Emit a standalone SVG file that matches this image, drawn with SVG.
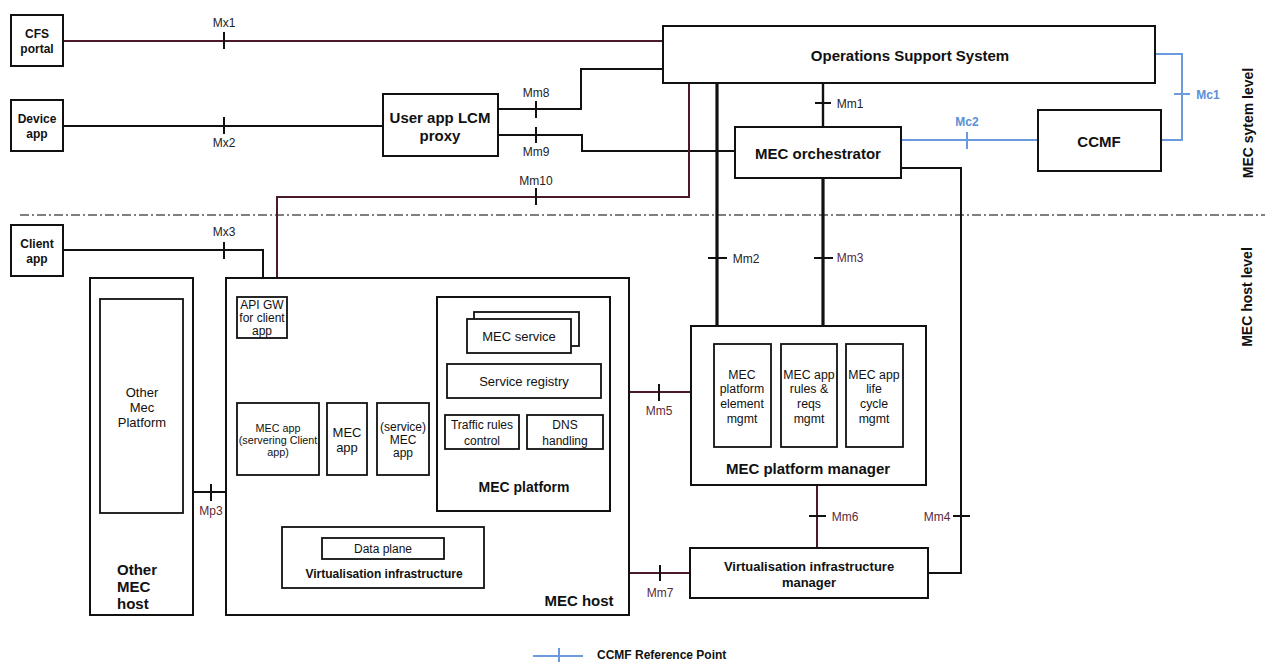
<svg xmlns="http://www.w3.org/2000/svg" width="1265" height="664" viewBox="0 0 1265 664">
<style>
text{font-family:"Liberation Sans",Arial,sans-serif;fill:#111;text-anchor:middle;dominant-baseline:central}
.box{fill:#fff;stroke:#111;stroke-width:2}
.ibox{fill:#fff;stroke:#111;stroke-width:1.8}
.b{font-weight:bold}
.f15{font-size:15px}.f14{font-size:14px}.f13{font-size:13px}.f12{font-size:12px}.f11{font-size:10.8px}
.f125{font-size:12.3px}
.lbl{font-size:12px;fill:#222}
.mlbl{font-size:12px;fill:#5a2a3a}
.blbl{font-size:12px;fill:#5b8fd6;font-weight:bold}
.k{fill:none;stroke:#111;stroke-width:2}
.kt{fill:none;stroke:#111;stroke-width:3.2}
.m{fill:none;stroke:#4a1a2c;stroke-width:2}
.bl{fill:none;stroke:#6b9bdc;stroke-width:2}
.tk{stroke:#111;stroke-width:2}
.tb{stroke:#6b9bdc;stroke-width:2}
</style>

<!-- level separator -->
<line x1="20" y1="215" x2="1265" y2="215" stroke="#555" stroke-width="1.3" stroke-dasharray="9 3 2 3"/>

<g id="connectors">
  <!-- Mx1 -->
  <path class="m" d="M63 41H663"/>
  <line class="tk" x1="224" y1="32" x2="224" y2="49"/>
  <!-- Mx2 -->
  <path class="k" d="M63 126H383"/>
  <line class="tk" x1="224" y1="117" x2="224" y2="134"/>
  <!-- Mm8 -->
  <path class="k" d="M498 109H581V69H663"/>
  <line class="tk" x1="536" y1="101" x2="536" y2="118"/>
  <!-- Mm9 -->
  <path class="k" d="M498 135H582V151H735"/>
  <line class="tk" x1="536" y1="127" x2="536" y2="143"/>
  <!-- Mm10 -->
  <path class="m" d="M277 297V197H689V83"/>
  <line class="tk" x1="536" y1="188" x2="536" y2="205"/>
  <!-- Mm1 -->
  <path class="kt" d="M823 83V127" style="stroke-width:2.4"/>
  <line class="tk" x1="815" y1="103" x2="831" y2="103"/>
  <!-- Mm2 -->
  <path class="kt" d="M717 83V326"/>
  <line class="tk" x1="708" y1="258" x2="727" y2="258"/>
  <!-- Mm3 -->
  <path class="kt" d="M823 178V326"/>
  <line class="tk" x1="814" y1="258" x2="833" y2="258"/>
  <!-- Mc2 -->
  <path class="bl" d="M901 140H1038"/>
  <line class="tb" x1="967" y1="132" x2="967" y2="149"/>
  <!-- Mc1 -->
  <path class="bl" d="M1155 54H1182V140H1161"/>
  <line class="tb" x1="1174" y1="94" x2="1190" y2="94"/>
  <!-- Mm4 -->
  <path class="k" d="M901 168H961V573H928"/>
  <line class="tk" x1="953" y1="516" x2="970" y2="516"/>
  <!-- Mx3 -->
  <path class="k" d="M63 250H263V297"/>
  <line class="tk" x1="224" y1="242" x2="224" y2="259"/>
  <!-- Mx3* -->
  <path class="m" d="M249 338V403"/>
  <line class="tk" x1="241" y1="368" x2="258" y2="368"/>
  <!-- Mp1 -->
  <path class="k" d="M308 403V353H437"/>
  <line class="tk" x1="367" y1="345" x2="367" y2="362"/>
  <path class="m" d="M347 403V370H437"/>
  <line class="tk" x1="393" y1="362" x2="393" y2="378"/>
  <path class="m" d="M402 403V384H437"/>
  <line class="tk" x1="419" y1="376" x2="419" y2="392"/>
  <!-- Mm5 -->
  <path class="m" d="M610 392H691"/>
  <line class="tk" x1="659" y1="384" x2="659" y2="401"/>
  <!-- Mp3 -->
  <path class="k" d="M183 492H437"/>
  <line class="tk" x1="211" y1="484" x2="211" y2="501"/>
  <!-- Mp2 -->
  <path class="m" d="M525 511V548H444"/>
  <line class="tk" x1="516" y1="530" x2="533" y2="530"/>
  <!-- Mm6 -->
  <path class="m" d="M817 485V548"/>
  <line class="tk" x1="809" y1="516" x2="826" y2="516"/>
  <!-- Mm7 -->
  <path class="m" d="M484 573H690"/>
  <line class="tk" x1="660" y1="565" x2="660" y2="581"/>
</g>

<g id="ref-labels">
  <text class="lbl" x="224" y="23">Mx1</text>
  <text class="lbl" x="224" y="143">Mx2</text>
  <text class="lbl" x="536" y="93">Mm8</text>
  <text class="lbl" x="536" y="152">Mm9</text>
  <text class="lbl" x="536" y="181">Mm10</text>
  <text class="lbl" x="850" y="104">Mm1</text>
  <text class="lbl" x="746" y="259">Mm2</text>
  <text class="mlbl" x="850" y="258">Mm3</text>
  <text class="blbl" x="967" y="122">Mc2</text>
  <text class="blbl" x="1208" y="95">Mc1</text>
  <text class="mlbl" x="937" y="517">Mm4</text>
  <text class="lbl" x="224" y="232">Mx3</text>
  <text class="lbl" x="268" y="360">Mx3*</text>
  <text class="mlbl" x="390" y="342">Mp1</text>
  <text class="mlbl" x="659" y="411">Mm5</text>
  <text class="mlbl" x="211" y="511">Mp3</text>
  <text class="mlbl" x="551" y="531">Mp2</text>
  <text class="mlbl" x="845" y="517">Mm6</text>
  <text class="mlbl" x="660" y="593">Mm7</text>
</g>

<g id="cfs-portal">
  <rect class="box" x="11" y="15" width="52" height="51"/>
  <text class="b f12" x="37" y="34">CFS</text>
  <text class="b f12" x="37" y="49">portal</text>
</g>
<g id="device-app">
  <rect class="box" x="11" y="100" width="52" height="51"/>
  <text class="b f12" x="37" y="119">Device</text>
  <text class="b f12" x="37" y="134">app</text>
</g>
<g id="user-app-lcm-proxy">
  <rect class="box" x="383" y="94" width="115" height="62"/>
  <text class="b f15" x="440" y="117">User app LCM</text>
  <text class="b f15" x="440" y="135">proxy</text>
</g>
<g id="oss">
  <rect class="box" x="663" y="26" width="492" height="57"/>
  <text class="b f15" x="910" y="55">Operations Support System</text>
</g>
<g id="mec-orchestrator">
  <rect class="box" x="735" y="127" width="166" height="51"/>
  <text class="b f15" x="818" y="153">MEC orchestrator</text>
</g>
<g id="ccmf">
  <rect class="box" x="1038" y="110" width="123" height="61"/>
  <text class="b f15" x="1099" y="141">CCMF</text>
</g>
<g id="client-app">
  <rect class="box" x="11" y="225" width="52" height="51"/>
  <text class="b f12" x="37" y="244">Client</text>
  <text class="b f12" x="37" y="259">app</text>
</g>

<g id="other-mec-host">
  <rect class="box" x="90" y="278" width="103" height="337"/>
  <text class="b f15" x="117" y="569" style="text-anchor:start">Other</text>
  <text class="b f15" x="117" y="586" style="text-anchor:start">MEC</text>
  <text class="b f15" x="117" y="603" style="text-anchor:start">host</text>
</g>
<g id="other-mec-platform">
  <rect class="ibox" x="100" y="299" width="83" height="214"/>
  <text class="f13" x="142" y="392">Other</text>
  <text class="f13" x="142" y="407">Mec</text>
  <text class="f13" x="142" y="422">Platform</text>
</g>

<g id="mec-host">
  <rect class="box" x="226" y="278" width="403" height="337" fill="none"/>
  <text class="b f15" x="579" y="600">MEC host</text>
</g>
<g id="api-gw">
  <rect class="ibox" x="237" y="297" width="50" height="41"/>
  <text class="f12" x="262" y="305">API GW</text>
  <text class="f12" x="262" y="318">for client</text>
  <text class="f12" x="262" y="331">app</text>
</g>
<g id="mec-app-client">
  <rect class="ibox" x="237" y="403" width="82" height="72"/>
  <text class="f11" x="278" y="428">MEC app</text>
  <text class="f11" x="278" y="440">(servering Client</text>
  <text class="f11" x="278" y="452">app)</text>
</g>
<g id="mec-app">
  <rect class="ibox" x="327" y="403" width="40" height="72"/>
  <text class="f13" x="347" y="432">MEC</text>
  <text class="f13" x="347" y="447">app</text>
</g>
<g id="service-mec-app">
  <rect class="ibox" x="377" y="403" width="52" height="72"/>
  <text class="f12" x="403" y="427">(service)</text>
  <text class="f12" x="403" y="440">MEC</text>
  <text class="f12" x="403" y="453">app</text>
</g>

<g id="mec-platform">
  <rect class="box" x="437" y="297" width="173" height="214"/>
  <text class="b f14" x="524" y="487">MEC platform</text>
</g>
<g id="mec-service">
  <rect class="ibox" x="474" y="312" width="105" height="34"/>
  <rect class="ibox" x="467" y="319" width="104" height="34"/>
  <text class="f13" x="519" y="336">MEC service</text>
</g>
<g id="service-registry">
  <rect class="ibox" x="447" y="364" width="154" height="34"/>
  <text class="f13" x="524" y="381">Service registry</text>
</g>
<g id="traffic-rules">
  <rect class="ibox" x="445" y="415" width="74" height="34"/>
  <text class="f12" x="482" y="425">Traffic rules</text>
  <text class="f12" x="482" y="441">control</text>
</g>
<g id="dns-handling">
  <rect class="ibox" x="527" y="415" width="76" height="34"/>
  <text class="f12" x="565" y="425">DNS</text>
  <text class="f12" x="565" y="441">handling</text>
</g>

<g id="virtualisation-infrastructure">
  <rect class="ibox" x="282" y="527" width="202" height="61"/>
  <text class="b f12" x="384" y="574">Virtualisation infrastructure</text>
</g>
<g id="data-plane">
  <rect class="ibox" x="322" y="538" width="122" height="21"/>
  <text class="f12" x="383" y="549">Data plane</text>
</g>

<g id="mec-platform-manager">
  <rect class="box" x="691" y="326" width="235" height="159"/>
  <text class="b f15" x="808" y="468">MEC platform manager</text>
</g>
<g id="pm-element-mgmt">
  <rect class="ibox" x="714" y="344" width="57" height="103"/>
  <text class="f125" x="742" y="375">MEC</text>
  <text class="f125" x="742" y="389">platform</text>
  <text class="f125" x="742" y="404">element</text>
  <text class="f125" x="742" y="419">mgmt</text>
</g>
<g id="pm-rules-reqs">
  <rect class="ibox" x="781" y="344" width="56" height="103"/>
  <text class="f125" x="809" y="375">MEC app</text>
  <text class="f125" x="809" y="389">rules &amp;</text>
  <text class="f125" x="809" y="404">reqs</text>
  <text class="f125" x="809" y="419">mgmt</text>
</g>
<g id="pm-lifecycle">
  <rect class="ibox" x="846" y="344" width="57" height="103"/>
  <text class="f125" x="874" y="375">MEC app</text>
  <text class="f125" x="874" y="389">life</text>
  <text class="f125" x="874" y="404">cycle</text>
  <text class="f125" x="874" y="419">mgmt</text>
</g>

<g id="vim">
  <rect class="box" x="690" y="548" width="238" height="50"/>
  <text class="b f13" x="809" y="566">Virtualisation infrastructure</text>
  <text class="b f13" x="809" y="582">manager</text>
</g>

<g id="level-labels">
  <text class="b f14" transform="translate(1248 123) rotate(-90)">MEC sytem level</text>
  <text class="b f14" transform="translate(1247 297) rotate(-90)">MEC host level</text>
</g>

<g id="legend">
  <line class="tb" x1="533" y1="656" x2="583" y2="656"/>
  <line class="tb" x1="559" y1="648" x2="559" y2="662"/>
  <text class="b f12" x="597" y="655" style="text-anchor:start">CCMF Reference Point</text>
</g>
</svg>
